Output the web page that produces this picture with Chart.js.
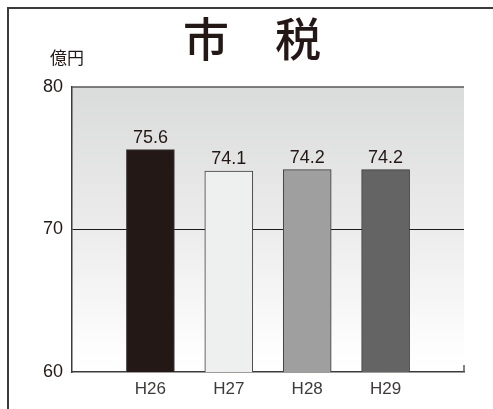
<!DOCTYPE html>
<html>
<head>
<meta charset="utf-8">
<script src="https://cdn.jsdelivr.net/npm/chart.js@4/dist/chart.umd.min.js"></script>
<style>
  html, body { margin: 0; padding: 0; background: #fff; }
  canvas { display: block; }
</style>
</head>
<body>
<canvas id="zeiChart" width="493" height="409"></canvas>
<script>
// values
const categories = ['H26', 'H27', 'H28', 'H29'];
const values = [75.6, 74.1, 74.2, 74.2];
const barColors = ['#231815', '#eeefef', '#9f9f9f', '#646464'];
const yTicks = [60, 70, 80];

const lineColor = '#3e3a39';

// frame, plot background and a few extra lines
const decorations = {
  id: 'decorations',
  beforeDraw(chart) {
    const ctx = chart.ctx;
    const a = chart.chartArea;
    ctx.save();
    // outer frame (left and top edge visible)
    ctx.strokeStyle = lineColor;
    ctx.lineWidth = 2;
    ctx.beginPath();
    ctx.moveTo(8, 409);
    ctx.lineTo(8, 8);
    ctx.lineTo(493, 8);
    ctx.stroke();
    // plot background gradient
    const g = ctx.createLinearGradient(0, a.top, 0, a.bottom);
    g.addColorStop(0, '#dadbdb');
    g.addColorStop(0.5, '#ececec');
    g.addColorStop(0.92, '#fdfdfd');
    g.addColorStop(1, '#ffffff');
    ctx.fillStyle = g;
    ctx.fillRect(a.left, a.top, a.right - a.left, a.bottom - a.top);
    // unit
    ctx.fillStyle = '#231815';
    ctx.font = '17px "Noto Sans CJK JP"';
    ctx.textAlign = 'center';
    ctx.textBaseline = 'middle';
    ctx.fillText('億円', 67, 58);
    ctx.restore();
  },
  afterDraw(chart) {
    const ctx = chart.ctx;
    const a = chart.chartArea;
    ctx.save();
    ctx.strokeStyle = '#595757';
    ctx.lineWidth = 1.5;
    ctx.beginPath();
    ctx.moveTo(a.left, a.top);
    ctx.lineTo(a.right, a.top);
    ctx.moveTo(a.right, a.bottom);
    ctx.lineTo(a.right, a.bottom - 7);
    ctx.stroke();
    // value labels above the bars
    const meta = chart.getDatasetMeta(0);
    ctx.fillStyle = '#231815';
    ctx.font = '18px "Liberation Sans", Arial, sans-serif';
    ctx.textAlign = 'center';
    ctx.textBaseline = 'alphabetic';
    meta.data.forEach((bar, i) => {
      ctx.fillText(values[i].toFixed(1), bar.x, bar.y - 7);
    });
    ctx.restore();
  }
};

new Chart(document.getElementById('zeiChart'), {
  type: 'bar',
  data: {
    datasets: [{
      data: values.map((v, i) => ({ x: i, y: v })),
      backgroundColor: barColors,
      borderColor: lineColor,
      borderWidth: 1,
      barThickness: 48
    }]
  },
  options: {
    responsive: false,
    animation: false,
    devicePixelRatio: 1,
    layout: { padding: { left: 40, right: 29, top: 8, bottom: 7 } },
    plugins: {
      legend: { display: false },
      tooltip: { enabled: false },
      title: {
        display: true,
        text: '市　税',
        color: '#231815',
        font: { family: '"Noto Sans CJK JP"', size: 46, weight: '500', lineHeight: 1 },
        padding: { top: 7.5, bottom: 25.5 }
      }
    },
    scales: {
      x: {
        type: 'linear',
        min: -1,
        max: 4,
        offset: false,
        grid: { display: false, drawTicks: false },
        border: { display: true, color: lineColor, width: 1.5 },
        afterBuildTicks(scale) {
          scale.ticks = categories.map((c, i) => ({ value: i }));
        },
        afterFit(scale) { scale.height = 30; },
        ticks: {
          padding: 7,
          color: lineColor,
          font: { family: '"Liberation Sans", Arial, sans-serif', size: 17 },
          callback: (v) => categories[v] ?? ''
        }
      },
      y: {
        min: 60,
        max: 80,
        afterBuildTicks(scale) {
          scale.ticks = yTicks.map(v => ({ value: v }));
        },
        afterFit(scale) { scale.width = 32; },
        grid: {
          drawTicks: false,
          color: (c) => (c.tick && c.tick.value === 70 ? '#231815' : 'rgba(0,0,0,0)'),
          lineWidth: 1
        },
        border: { display: true, color: lineColor, width: 1.5 },
        ticks: {
          padding: 9,
          color: '#231815',
          font: { family: '"Liberation Sans", Arial, sans-serif', size: 18 }
        }
      }
    }
  },
  plugins: [decorations]
});
</script>
</body>
</html>
